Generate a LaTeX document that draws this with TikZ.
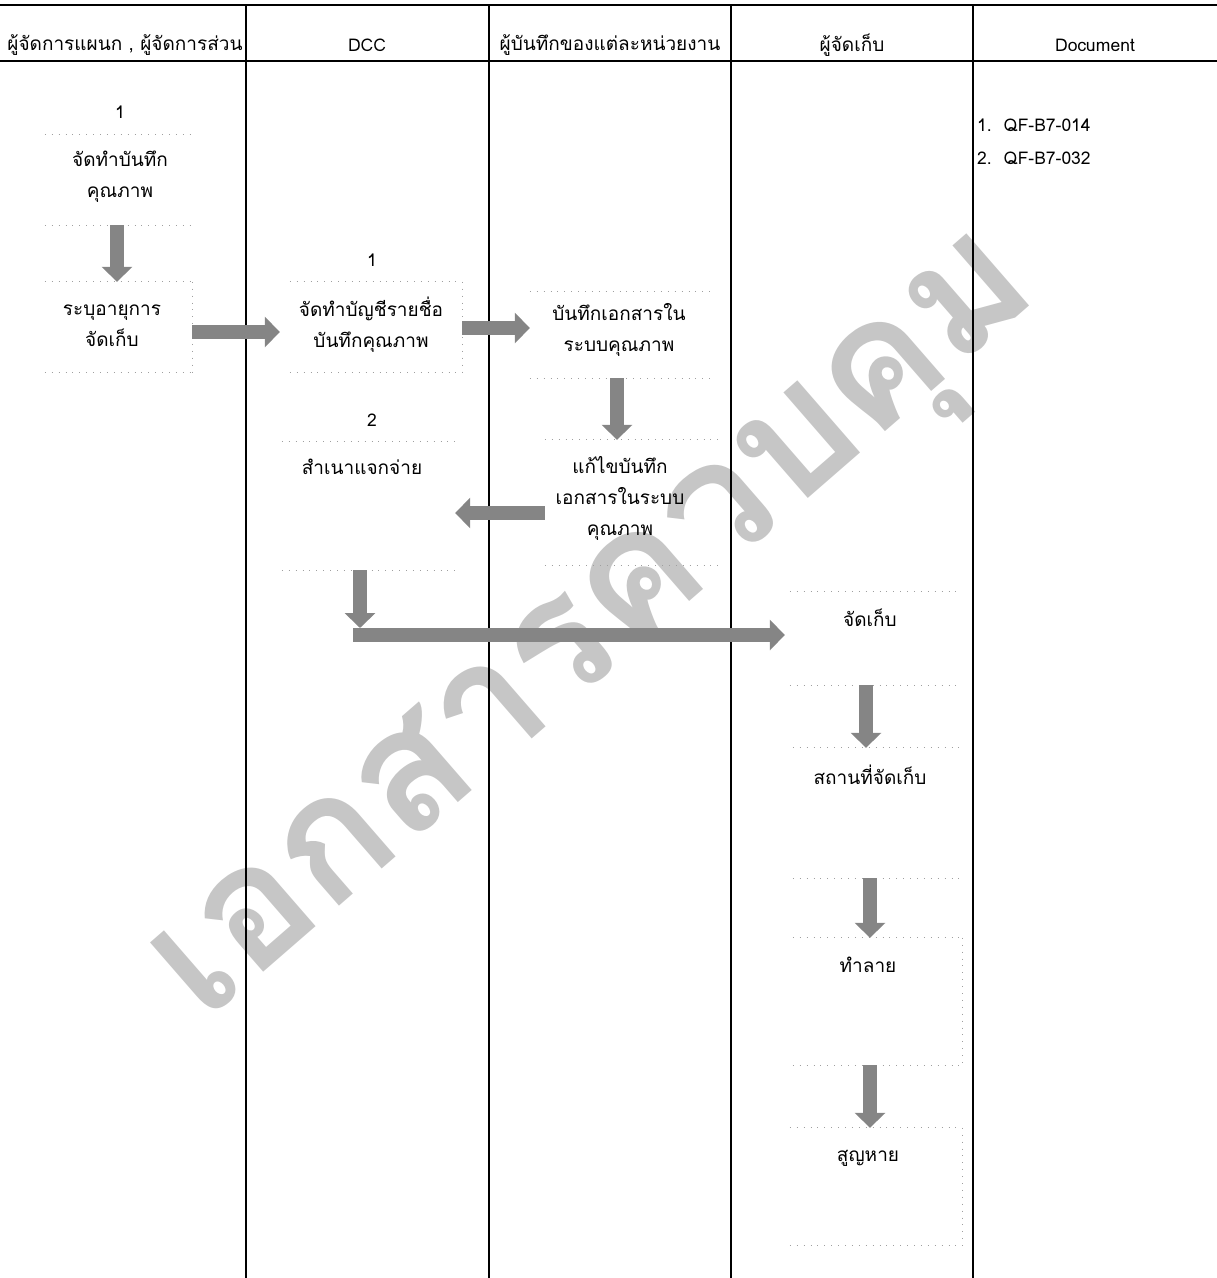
\documentclass[tikz,border=0pt]{standalone}
\usepackage{fontspec}
\setmainfont[Script=Thai]{Loma}
\usetikzlibrary{arrows.meta,fit}
\definecolor{arrowgray}{HTML}{858585}
\definecolor{wmgray}{HTML}{C6C6C6}
\begin{document}
\begin{tikzpicture}[x=1pt,y=-1pt,
  lane/.style={line width=1.6pt, black},
  hline/.style={line width=1.4pt, black},
  box/.style={inner sep=0pt, draw=none},
  dotline/.style={gray!75, line width=0.9pt, dash pattern=on 0.9pt off 6pt},
  txt/.style={align=center, font=\fontsize{19}{31}\selectfont, inner sep=1pt},
  lat/.style={font=\fontsize{17.5}{20}\selectfont, inner sep=1pt},
  hdr/.style={font=\fontsize{19}{20}\selectfont, inner sep=1pt},
  blockarrow/.style={draw=arrowgray, line width=14pt, -{Triangle[width=30pt,length=15pt]}},
  wm/.style={text=wmgray, font=\fontsize{172}{172}\selectfont\bfseries, inner sep=0pt}
]
\useasboundingbox (0,0) rectangle (1217,1278);
% watermark
\node[wm, rotate=41] (wmark) at (605,638) {เอกสารควบคุม};
% lanes
\draw[hline] (0,5) -- (1217,5);
\draw[hline] (0,61) -- (1217,61);
\foreach \x in {246,489,731,973} \draw[lane] (\x,5) -- (\x,1278);
% headers
\node[hdr] (h1) at (125,45) {ผู้จัดการแผนก , ผู้จัดการส่วน};
\node[lat] (h2) at (367,45) {DCC};
\node[hdr] (h3) at (610,45) {ผู้บันทึกของแต่ละหน่วยงาน};
\node[hdr] (h4) at (852,45) {ผู้จัดเก็บ};
\node[lat] (h5) at (1095,45) {Document};
% document list
\node[lat, anchor=west] (d1) at (976,125) {1.\ \ QF-B7-014};
\node[lat, anchor=west] (d2) at (976,158) {2.\ \ QF-B7-032};
% boxes
\node[box, fit={(45,135) (190,225)}] (b1) {};
\node[box, fit={(45,282) (192,372)}] (b2) {};
\node[box, fit={(290,282) (462,372)}] (b3) {};
\node[box, fit={(282,442) (455,570)}] (b4) {};
\node[box, fit={(530,292) (710,378)}] (b5) {};
\node[box, fit={(545,440) (720,565)}] (b6) {};
\node[box, fit={(790,592) (962,685)}] (b7) {};
\node[box, fit={(793,748) (962,878)}] (b8) {};
\node[box, fit={(793,938) (962,1065)}] (b9) {};
\node[box, fit={(790,1128) (962,1245)}] (b10) {};
\foreach \b in {b1,b2,b3,b4,b5,b6,b7,b8,b9,b10}
  \draw[dotline] (\b.north west) -- (\b.north east) (\b.south west) -- (\b.south east);
\foreach \b in {b2,b3,b9,b10}
  \draw[dotline] (\b.north east) -- (\b.south east);
% step numbers
\node[lat] (n1) at (120,112) {1};
\node[lat] (n2) at (372,260) {1};
\node[lat] (n3) at (372,420) {2};
% texts
\node[txt] (t1) at (120,177) {จัดทำบันทึก\\คุณภาพ};
\node[txt] (t2) at (112,326) {ระบุอายุการ\\จัดเก็บ};
\node[txt] (t3) at (371,325) {จัดทำบัญชีรายชื่อ\\บันทึกคุณภาพ};
\node[txt] (t4) at (362,467) {สำเนาแจกจ่าย};
\node[txt] (t5) at (619,330) {บันทึกเอกสารใน\\ระบบคุณภาพ};
\node[txt] (t6) at (620,498) {แก้ไขบันทึก\\เอกสารในระบบ\\คุณภาพ};
\node[txt] (t7) at (870,618) {จัดเก็บ};
\node[txt] (t8) at (870,775) {สถานที่จัดเก็บ};
\node[txt] (t9) at (868,965) {ทำลาย};
\node[txt] (t10) at (868,1158) {สูญหาย};
% arrows
\draw[blockarrow] (b1.south -| 117,0) -- (b2.north -| 117,0);
\draw[blockarrow] (b2.east |- 0,332) -- ([xshift=-10pt]b3.west |- 0,332);
\draw[blockarrow] (b3.east |- 0,328) -- (b5.west |- 0,328);
\draw[blockarrow] (b5.south -| 617,0) -- (b6.north -| 617,0);
\draw[blockarrow] (b6.west |- 0,513) -- (b4.east |- 0,513);
\coordinate (bend) at (360,628);
\draw[blockarrow] (b4.south -| bend) -- (bend);
\draw[blockarrow] ([xshift=-7pt,yshift=-7pt]bend) -- ([xshift=-5pt]b7.west |- 0,635);
\draw[blockarrow] (b7.south -| 866,0) -- (b8.north -| 866,0);
\draw[blockarrow] (b8.south -| 870,0) -- (b9.north -| 870,0);
\draw[blockarrow] (b9.south -| 870,0) -- (b10.north -| 870,0);
\end{tikzpicture}
\end{document}
